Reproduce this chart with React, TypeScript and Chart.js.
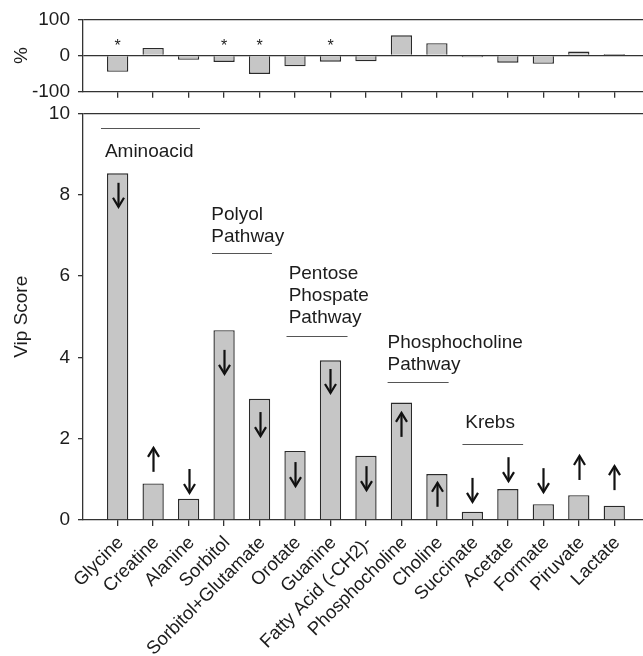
import React, { useEffect, useRef } from "react";
import { Chart, registerables } from "chart.js";

Chart.register(...registerables);

// ---------------- data ----------------
const categories = [
  "Glycine",
  "Creatine",
  "Alanine",
  "Sorbitol",
  "Sorbitol+Glutamate",
  "Orotate",
  "Guanine",
  "Fatty Acid (-CH2)-",
  "Phosphocholine",
  "Choline",
  "Succinate",
  "Acetate",
  "Formate",
  "Piruvate",
  "Lactate",
];
const percentChange = [-45, 21, -12, -18, -51, -30, -17, -16, 56, 34, -5, -20, -23, 11, 4];
const vipScores = [8.53, 0.9, 0.52, 4.67, 2.98, 1.7, 3.93, 1.58, 2.89, 1.13, 0.2, 0.76, 0.39, 0.61, 0.35];
const arrowDirections = ["down", "up", "down", "down", "down", "down", "down", "down", "up", "up", "down", "down", "down", "up", "up"];
const arrowCenters = [8.0, 1.48, 0.96, 3.89, 2.36, 1.13, 3.42, 1.03, 2.34, 0.62, 0.74, 1.25, 0.98, 1.28, 1.03];
const significant = [true, false, false, true, true, false, true, false, false, false, false, false, false, false, false];
const asteriskLevel = 38;
const percentTicks = [-100, 0, 100];
const vipTicks = [0, 2, 4, 6, 8, 10];

const groupLabels = [
  { lines: ["Aminoacid"], textX: -0.36, textY: 8.93, ruleY: 9.64, ruleX0: -0.47, ruleX1: 2.32 },
  { lines: ["Polyol", "Pathway"], textX: 2.64, textY: 7.38, ruleY: 6.56, ruleX0: 2.66, ruleX1: 4.35 },
  { lines: ["Pentose", "Phospate", "Pathway"], textX: 4.82, textY: 5.92, ruleY: 4.52, ruleX0: 4.76, ruleX1: 6.48 },
  { lines: ["Phosphocholine", "Pathway"], textX: 7.61, textY: 4.22, ruleY: 3.4, ruleX0: 7.61, ruleX1: 9.33 },
  { lines: ["Krebs"], textX: 9.8, textY: 2.27, ruleY: 1.86, ruleX0: 9.72, ruleX1: 11.43 },
];

// ---------------- style ----------------
const FONT = "'Liberation Sans', Arial, Helvetica, sans-serif";
const INK = "#1c1c1c";
const AXIS = "#333333";
const BAR_FILL = "#c6c6c6";
const BAR_EDGE = "#2a2a2a";
const X_MIN = -0.977;
const X_MAX = 14.81;
const Y_AXIS_WIDTH = 83;

const categoryTicks = (scale: any) => {
  scale.ticks = categories.map((_, i) => ({ value: i }));
};

const annotationsPlugin = {
  id: "vipAnnotations",
  afterDatasetsDraw(chart: any) {
    const { ctx, scales } = chart;
    const x = scales.x;
    const y = scales.y;
    ctx.save();
    ctx.strokeStyle = "#111";
    ctx.lineWidth = 2.2;
    ctx.lineCap = "butt";
    arrowDirections.forEach((d, i) => {
      const px = Math.round(x.getPixelForValue(i)) + 0.5;
      const pc = y.getPixelForValue(arrowCenters[i]);
      const half = 12;
      const sign = d === "up" ? -1 : 1;
      const tip = pc + sign * half;
      ctx.beginPath();
      ctx.moveTo(px, pc - sign * half);
      ctx.lineTo(px, tip);
      ctx.stroke();
      ctx.beginPath();
      ctx.moveTo(px - 5.5, tip - sign * 9);
      ctx.lineTo(px, tip);
      ctx.lineTo(px + 5.5, tip - sign * 9);
      ctx.stroke();
    });
    ctx.font = `19px ${FONT}`;
    ctx.fillStyle = INK;
    ctx.textAlign = "left";
    ctx.textBaseline = "alphabetic";
    groupLabels.forEach((g) => {
      const lx = x.getPixelForValue(g.textX);
      const by = y.getPixelForValue(g.textY);
      g.lines.forEach((t, k) => ctx.fillText(t, lx, by + k * 22));
      const ly = Math.round(y.getPixelForValue(g.ruleY)) + 0.5;
      ctx.strokeStyle = "#555";
      ctx.lineWidth = 1.2;
      ctx.beginPath();
      ctx.moveTo(x.getPixelForValue(g.ruleX0), ly);
      ctx.lineTo(x.getPixelForValue(g.ruleX1), ly);
      ctx.stroke();
    });
    ctx.restore();
  },
};

const asteriskPlugin = {
  id: "asterisks",
  afterDatasetsDraw(chart: any) {
    const { ctx, scales } = chart;
    ctx.save();
    ctx.font = `16px ${FONT}`;
    ctx.fillStyle = INK;
    ctx.textAlign = "center";
    ctx.textBaseline = "alphabetic";
    significant.forEach((s, i) => {
      if (!s) return;
      const px = scales.x.getPixelForValue(i);
      const py = scales.y.getPixelForValue(asteriskLevel);
      ctx.fillText("*", px, py + 9);
    });
    ctx.restore();
  },
};

function xScaleOptions(showLabels: boolean, height: number) {
  return {
    type: "linear" as const,
    min: X_MIN,
    max: X_MAX,
    offset: false,
    afterBuildTicks: categoryTicks,
    afterFit: (scale: any) => {
      scale.height = height;
      scale.paddingLeft = 0;
      scale.paddingRight = 0;
    },
    border: { display: true, color: AXIS, width: 1.3 },
    grid: { offset: false, drawOnChartArea: false, drawTicks: true, tickLength: 6, tickColor: AXIS, lineWidth: 1.3 },
    ticks: {
      display: showLabels,
      autoSkip: false,
      minRotation: 45,
      maxRotation: 45,
      padding: 6,
      labelOffset: 3,
      color: INK,
      font: { family: FONT, size: 18.5 },
      callback: (v: any) => categories[v] ?? "",
    },
  };
}

function yScaleOptions(tickValues: number[], min: number, max: number, title: string, frameValues: number[]) {
  return {
    min,
    max,
    afterBuildTicks: (scale: any) => {
      scale.ticks = tickValues.map((v) => ({ value: v }));
    },
    afterFit: (scale: any) => {
      scale.width = Y_AXIS_WIDTH;
      scale.paddingTop = 0;
      scale.paddingBottom = 0;
    },
    border: { display: true, color: AXIS, width: 1.3 },
    grid: {
      drawOnChartArea: true,
      drawTicks: true,
      tickLength: 5,
      lineWidth: 1.3,
      tickColor: AXIS,
      color: (c: any) => (c.tick && frameValues.includes(c.tick.value) ? AXIS : "rgba(0,0,0,0)"),
    },
    ticks: {
      padding: 8,
      color: INK,
      font: { family: FONT, size: 19 },
    },
    title: {
      display: true,
      text: title,
      color: INK,
      font: { family: FONT, size: 19 },
      padding: { top: 10, bottom: 0 },
    },
  };
}

function useChart(ref: React.RefObject<HTMLCanvasElement>, build: () => any) {
  useEffect(() => {
    if (!ref.current) return;
    const chart = new Chart(ref.current, build());
    return () => chart.destroy();
  }, []);
}

export default function App() {
  const topRef = useRef<HTMLCanvasElement>(null);
  const bottomRef = useRef<HTMLCanvasElement>(null);

  useChart(topRef, () => ({
    type: "bar",
    data: {
      datasets: [
        {
          data: percentChange.map((v, i) => ({ x: i, y: v })),
          backgroundColor: BAR_FILL,
          borderColor: BAR_EDGE,
          borderWidth: 1.4,
          barPercentage: 0.6,
          categoryPercentage: 1,
        },
      ],
    },
    options: {
      responsive: false,
      animation: false,
      devicePixelRatio: 1,
      layout: { padding: { top: 19.3, left: 0, right: 0, bottom: 0 } },
      plugins: { legend: { display: false }, tooltip: { enabled: false } },
      scales: {
        x: xScaleOptions(false, 112 - 91.7),
        y: yScaleOptions(percentTicks, -100, 100, "%", [0, 100]),
      },
    },
    plugins: [asteriskPlugin],
  }));

  useChart(bottomRef, () => ({
    type: "bar",
    data: {
      datasets: [
        {
          data: vipScores.map((v, i) => ({ x: i, y: v })),
          backgroundColor: BAR_FILL,
          borderColor: BAR_EDGE,
          borderWidth: 1.4,
          barPercentage: 0.6,
          categoryPercentage: 1,
        },
      ],
    },
    options: {
      responsive: false,
      animation: false,
      devicePixelRatio: 1,
      layout: { padding: { top: 13.5, left: 0, right: 0, bottom: 0 } },
      plugins: { legend: { display: false }, tooltip: { enabled: false } },
      scales: {
        x: xScaleOptions(true, 556 - 420),
        y: yScaleOptions(vipTicks, 0, 10, "Vip Score", [10]),
      },
    },
    plugins: [annotationsPlugin],
  }));

  return (
    <div style={{ position: "absolute", left: 0, top: 0, width: 643, height: 656, background: "#fff" }}>
      <canvas ref={topRef} width={643} height={112} style={{ position: "absolute", left: 0, top: 0, display: "block" }} />
      <canvas ref={bottomRef} width={643} height={556} style={{ position: "absolute", left: 0, top: 100, display: "block" }} />
    </div>
  );
}
